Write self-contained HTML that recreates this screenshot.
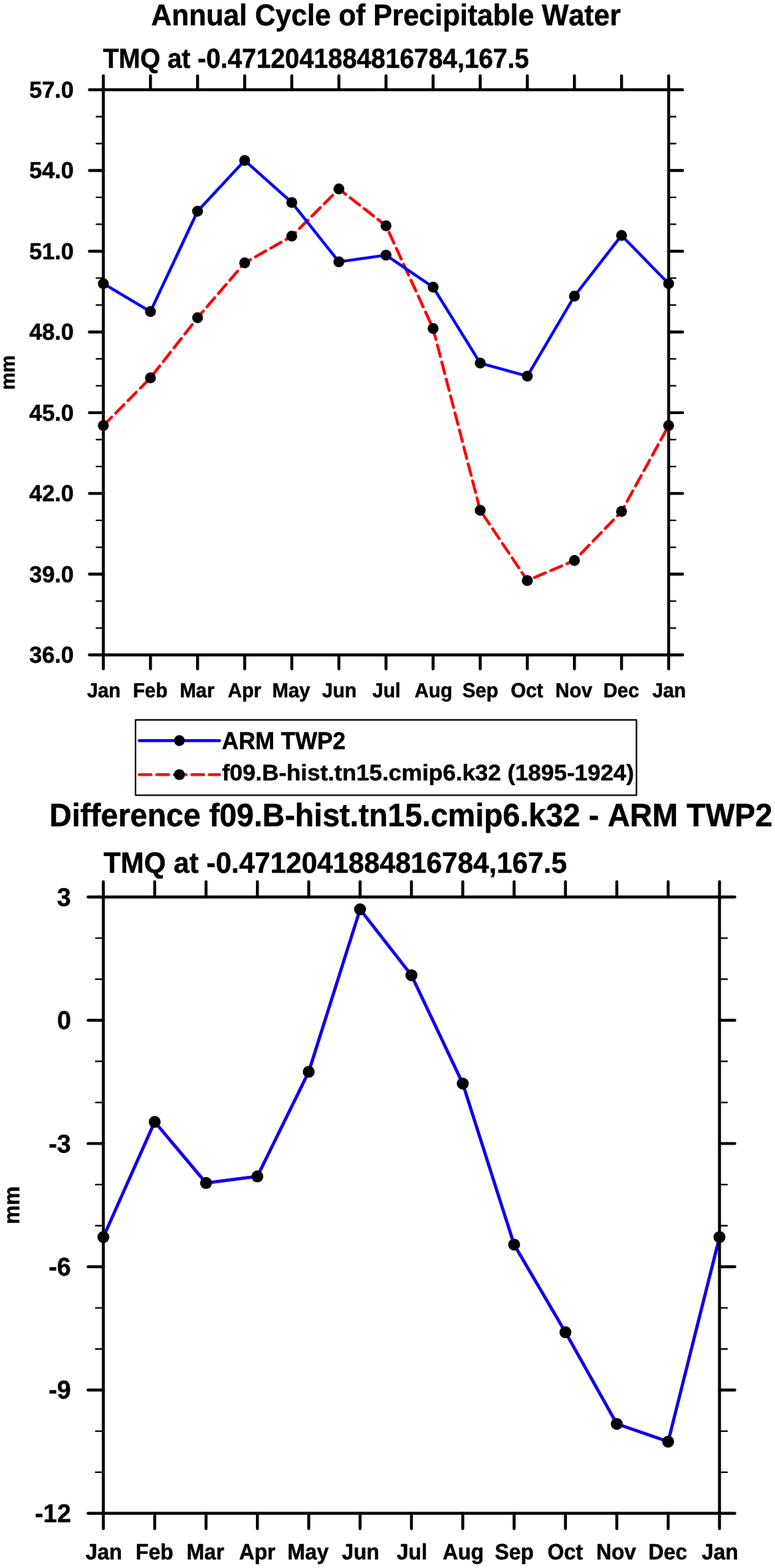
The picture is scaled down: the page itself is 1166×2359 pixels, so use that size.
<!DOCTYPE html>
<html lang="en"><head><meta charset="utf-8"><title>Annual Cycle of Precipitable Water</title>
<style>html,body{margin:0;padding:0;background:#fff}body{width:1166px;height:2359px;overflow:hidden}svg{display:block}</style></head>
<body>
<svg width="1166" height="2359" viewBox="0 0 1166 2359" font-family="'Liberation Sans', sans-serif" font-weight="bold" fill="#000" style="font-kerning:none;display:block" text-rendering="geometricPrecision">
<rect width="1166" height="2359" fill="#fff"/>
<path d="M155.50 640.30L226.38 568.50L297.25 478.00L368.12 395.50L439.00 355.30L509.88 284.30L580.75 339.60L651.62 494.30L722.50 767.80L793.38 873.40L864.25 843.20L935.12 769.50L1006.00 640.20" fill="none" stroke="#f00" stroke-width="4.4" stroke-dasharray="17.9 8.5" stroke-linecap="round" stroke-linejoin="round"/>
<path d="M155.50 426.70L226.38 468.80L297.25 317.80L368.12 241.40L439.00 304.60L509.88 393.90L580.75 383.90L651.62 432.00L722.50 546.30L793.38 565.90L864.25 445.50L935.12 354.20L1006.00 426.80" fill="none" stroke="#00f" stroke-width="4.4" stroke-linecap="round" stroke-linejoin="round"/>
<g stroke="#000" fill="none" stroke-linecap="round"><path d="M155.50 175.49h-10.50M1006.00 175.49h10.50M155.50 215.98h-10.50M1006.00 215.98h10.50M155.50 296.96h-10.50M1006.00 296.96h10.50M155.50 337.45h-10.50M1006.00 337.45h10.50M155.50 418.43h-10.50M1006.00 418.43h10.50M155.50 458.92h-10.50M1006.00 458.92h10.50M155.50 539.90h-10.50M1006.00 539.90h10.50M155.50 580.40h-10.50M1006.00 580.40h10.50M155.50 661.38h-10.50M1006.00 661.38h10.50M155.50 701.87h-10.50M1006.00 701.87h10.50M155.50 782.85h-10.50M1006.00 782.85h10.50M155.50 823.34h-10.50M1006.00 823.34h10.50M155.50 904.32h-10.50M1006.00 904.32h10.50M155.50 944.81h-10.50M1006.00 944.81h10.50" stroke-width="2.3"/><path d="M155.50 135.00h-21.00M1006.00 135.00h21.00M155.50 256.47h-21.00M1006.00 256.47h21.00M155.50 377.94h-21.00M1006.00 377.94h21.00M155.50 499.41h-21.00M1006.00 499.41h21.00M155.50 620.89h-21.00M1006.00 620.89h21.00M155.50 742.36h-21.00M1006.00 742.36h21.00M155.50 863.83h-21.00M1006.00 863.83h21.00M155.50 985.30h-21.00M1006.00 985.30h21.00M155.50 135.00v-21.00M155.50 985.30v21.00M226.38 135.00v-21.00M226.38 985.30v21.00M297.25 135.00v-21.00M297.25 985.30v21.00M368.12 135.00v-21.00M368.12 985.30v21.00M439.00 135.00v-21.00M439.00 985.30v21.00M509.88 135.00v-21.00M509.88 985.30v21.00M580.75 135.00v-21.00M580.75 985.30v21.00M651.62 135.00v-21.00M651.62 985.30v21.00M722.50 135.00v-21.00M722.50 985.30v21.00M793.38 135.00v-21.00M793.38 985.30v21.00M864.25 135.00v-21.00M864.25 985.30v21.00M935.12 135.00v-21.00M935.12 985.30v21.00M1006.00 135.00v-21.00M1006.00 985.30v21.00" stroke-width="4.45"/><rect x="155.50" y="135.00" width="850.50" height="850.30" stroke-width="4.45" stroke-linejoin="miter"/></g>
<g><circle cx="155.50" cy="640.30" r="8.2"/><circle cx="226.38" cy="568.50" r="8.2"/><circle cx="297.25" cy="478.00" r="8.2"/><circle cx="368.12" cy="395.50" r="8.2"/><circle cx="439.00" cy="355.30" r="8.2"/><circle cx="509.88" cy="284.30" r="8.2"/><circle cx="580.75" cy="339.60" r="8.2"/><circle cx="651.62" cy="494.30" r="8.2"/><circle cx="722.50" cy="767.80" r="8.2"/><circle cx="793.38" cy="873.40" r="8.2"/><circle cx="864.25" cy="843.20" r="8.2"/><circle cx="935.12" cy="769.50" r="8.2"/><circle cx="1006.00" cy="640.20" r="8.2"/><circle cx="155.50" cy="426.70" r="8.2"/><circle cx="226.38" cy="468.80" r="8.2"/><circle cx="297.25" cy="317.80" r="8.2"/><circle cx="368.12" cy="241.40" r="8.2"/><circle cx="439.00" cy="304.60" r="8.2"/><circle cx="509.88" cy="393.90" r="8.2"/><circle cx="580.75" cy="383.90" r="8.2"/><circle cx="651.62" cy="432.00" r="8.2"/><circle cx="722.50" cy="546.30" r="8.2"/><circle cx="793.38" cy="565.90" r="8.2"/><circle cx="864.25" cy="445.50" r="8.2"/><circle cx="935.12" cy="354.20" r="8.2"/><circle cx="1006.00" cy="426.80" r="8.2"/></g>
<text transform="translate(227.39 37.60) scale(1 1.0577)" font-size="42.671"  stroke="#000" stroke-width="0.5" stroke-linejoin="round">Annual Cycle of Precipitable Water</text>
<text transform="translate(154.91 102.00) scale(1 1.0688)" font-size="38.827"  stroke="#000" stroke-width="0.5" stroke-linejoin="round">TMQ at -0.4712041884816784,167.5</text>
<text transform="translate(44.04 146.90) scale(1 1.0100)" font-size="34.409"  stroke="#000" stroke-width="0.5" stroke-linejoin="round">57.0</text>
<text transform="translate(44.04 268.37) scale(1 1.0100)" font-size="34.409"  stroke="#000" stroke-width="0.5" stroke-linejoin="round">54.0</text>
<text transform="translate(44.04 389.84) scale(1 1.0100)" font-size="34.409"  stroke="#000" stroke-width="0.5" stroke-linejoin="round">51.0</text>
<text transform="translate(44.04 511.31) scale(1 1.0100)" font-size="34.409"  stroke="#000" stroke-width="0.5" stroke-linejoin="round">48.0</text>
<text transform="translate(44.04 632.78) scale(1 1.0100)" font-size="34.409"  stroke="#000" stroke-width="0.5" stroke-linejoin="round">45.0</text>
<text transform="translate(44.04 754.26) scale(1 1.0100)" font-size="34.409"  stroke="#000" stroke-width="0.5" stroke-linejoin="round">42.0</text>
<text transform="translate(44.04 875.73) scale(1 1.0100)" font-size="34.409"  stroke="#000" stroke-width="0.5" stroke-linejoin="round">39.0</text>
<text transform="translate(44.04 997.20) scale(1 1.0100)" font-size="34.409"  stroke="#000" stroke-width="0.5" stroke-linejoin="round">36.0</text>
<text transform="translate(130.91 1048.90) scale(1 1.0451)" font-size="29.344"  stroke="#000" stroke-width="0.5" stroke-linejoin="round">Jan</text>
<text transform="translate(199.91 1048.90) scale(1 1.0451)" font-size="29.344"  stroke="#000" stroke-width="0.5" stroke-linejoin="round">Feb</text>
<text transform="translate(270.40 1048.90) scale(1 1.0451)" font-size="29.344"  stroke="#000" stroke-width="0.5" stroke-linejoin="round">Mar</text>
<text transform="translate(342.71 1048.90) scale(1 1.0451)" font-size="29.344"  stroke="#000" stroke-width="0.5" stroke-linejoin="round">Apr</text>
<text transform="translate(409.56 1048.90) scale(1 1.0451)" font-size="29.344"  stroke="#000" stroke-width="0.5" stroke-linejoin="round">May</text>
<text transform="translate(484.48 1048.90) scale(1 1.0451)" font-size="29.344"  stroke="#000" stroke-width="0.5" stroke-linejoin="round">Jun</text>
<text transform="translate(560.37 1048.90) scale(1 1.0451)" font-size="29.344"  stroke="#000" stroke-width="0.5" stroke-linejoin="round">Jul</text>
<text transform="translate(623.72 1048.90) scale(1 1.0451)" font-size="29.344"  stroke="#000" stroke-width="0.5" stroke-linejoin="round">Aug</text>
<text transform="translate(695.77 1048.90) scale(1 1.0451)" font-size="29.344"  stroke="#000" stroke-width="0.5" stroke-linejoin="round">Sep</text>
<text transform="translate(768.49 1048.90) scale(1 1.0451)" font-size="29.344"  stroke="#000" stroke-width="0.5" stroke-linejoin="round">Oct</text>
<text transform="translate(835.62 1048.90) scale(1 1.0451)" font-size="29.344"  stroke="#000" stroke-width="0.5" stroke-linejoin="round">Nov</text>
<text transform="translate(907.66 1048.90) scale(1 1.0451)" font-size="29.344"  stroke="#000" stroke-width="0.5" stroke-linejoin="round">Dec</text>
<text transform="translate(981.41 1048.90) scale(1 1.0451)" font-size="29.344"  stroke="#000" stroke-width="0.5" stroke-linejoin="round">Jan</text>
<text transform="translate(21.55 560.45) rotate(-90) scale(1 1.0383) translate(-26.13 0)" font-size="29.326" stroke="#000" stroke-width="0.5" stroke-linejoin="round">mm</text>
<rect x="203.9" y="1083.2" width="753.7" height="113.1" fill="none" stroke="#000" stroke-width="2.25" stroke-linejoin="round"/>
<path d="M209.4 1114.3H330.4" stroke="#00f" stroke-width="4.4" stroke-linecap="round"/>
<path d="M209.4 1165.4H330.4" stroke="#f00" stroke-width="4.4" stroke-linecap="round" stroke-dasharray="17.9 8.5"/>
<circle cx="269.9" cy="1114.3" r="8.2"/><circle cx="269.9" cy="1165.4" r="8.2"/>
<text transform="translate(333.68 1127.00) scale(1 1.0466)" font-size="34.927"  stroke="#000" stroke-width="0.5" stroke-linejoin="round">ARM TWP2</text>
<text transform="translate(333.95 1174.20) scale(1 0.9689)" font-size="34.970"  stroke="#000" stroke-width="0.5" stroke-linejoin="round">f09.B-hist.tn15.cmip6.k32 (1895-1924)</text>
<path d="M155.50 1861.10L232.75 1687.80L310.00 1779.80L387.25 1769.80L464.50 1612.50L541.75 1368.10L619.00 1467.20L696.25 1630.20L773.50 1872.50L850.75 2004.30L928.00 2142.20L1005.25 2168.90L1082.50 1861.20" fill="none" stroke="#f00" stroke-width="4.6" stroke-linecap="round" stroke-linejoin="round"/>
<path d="M155.50 1861.10L232.75 1687.80L310.00 1779.80L387.25 1769.80L464.50 1612.50L541.75 1368.10L619.00 1467.20L696.25 1630.20L773.50 1872.50L850.75 2004.30L928.00 2142.20L1005.25 2168.90L1082.50 1861.20" fill="none" stroke="#00f" stroke-width="4.6" stroke-linecap="round" stroke-linejoin="round"/>
<g stroke="#000" fill="none" stroke-linecap="round"><path d="M155.50 1411.31h-11.40M1082.50 1411.31h11.40M155.50 1473.13h-11.40M1082.50 1473.13h11.40M155.50 1596.75h-11.40M1082.50 1596.75h11.40M155.50 1658.57h-11.40M1082.50 1658.57h11.40M155.50 1782.19h-11.40M1082.50 1782.19h11.40M155.50 1844.01h-11.40M1082.50 1844.01h11.40M155.50 1967.63h-11.40M1082.50 1967.63h11.40M155.50 2029.45h-11.40M1082.50 2029.45h11.40M155.50 2153.07h-11.40M1082.50 2153.07h11.40M155.50 2214.89h-11.40M1082.50 2214.89h11.40" stroke-width="2.35"/><path d="M155.50 1349.50h-23.00M1082.50 1349.50h23.00M155.50 1534.94h-23.00M1082.50 1534.94h23.00M155.50 1720.38h-23.00M1082.50 1720.38h23.00M155.50 1905.82h-23.00M1082.50 1905.82h23.00M155.50 2091.26h-23.00M1082.50 2091.26h23.00M155.50 2276.70h-23.00M1082.50 2276.70h23.00M155.50 1349.50v-23.00M155.50 2276.70v23.00M232.75 1349.50v-23.00M232.75 2276.70v23.00M310.00 1349.50v-23.00M310.00 2276.70v23.00M387.25 1349.50v-23.00M387.25 2276.70v23.00M464.50 1349.50v-23.00M464.50 2276.70v23.00M541.75 1349.50v-23.00M541.75 2276.70v23.00M619.00 1349.50v-23.00M619.00 2276.70v23.00M696.25 1349.50v-23.00M696.25 2276.70v23.00M773.50 1349.50v-23.00M773.50 2276.70v23.00M850.75 1349.50v-23.00M850.75 2276.70v23.00M928.00 1349.50v-23.00M928.00 2276.70v23.00M1005.25 1349.50v-23.00M1005.25 2276.70v23.00M1082.50 1349.50v-23.00M1082.50 2276.70v23.00" stroke-width="4.45"/><rect x="155.50" y="1349.50" width="927.00" height="927.20" stroke-width="4.45" stroke-linejoin="miter"/></g>
<g><circle cx="155.50" cy="1861.10" r="9.0"/><circle cx="232.75" cy="1687.80" r="9.0"/><circle cx="310.00" cy="1779.80" r="9.0"/><circle cx="387.25" cy="1769.80" r="9.0"/><circle cx="464.50" cy="1612.50" r="9.0"/><circle cx="541.75" cy="1368.10" r="9.0"/><circle cx="619.00" cy="1467.20" r="9.0"/><circle cx="696.25" cy="1630.20" r="9.0"/><circle cx="773.50" cy="1872.50" r="9.0"/><circle cx="850.75" cy="2004.30" r="9.0"/><circle cx="928.00" cy="2142.20" r="9.0"/><circle cx="1005.25" cy="2168.90" r="9.0"/><circle cx="1082.50" cy="1861.20" r="9.0"/></g>
<text transform="translate(74.34 1243.00) scale(1 1.0455)" font-size="46.501"  stroke="#000" stroke-width="0.5" stroke-linejoin="round">Difference f09.B-hist.tn15.cmip6.k32 - ARM TWP2</text>
<text transform="translate(155.78 1313.00) scale(1 1.0412)" font-size="42.226"  stroke="#000" stroke-width="0.5" stroke-linejoin="round">TMQ at -0.4712041884816784,167.5</text>
<text transform="translate(85.85 1362.71) scale(1 1.0300)" font-size="37.600"  stroke="#000" stroke-width="0.5" stroke-linejoin="round">3</text>
<text transform="translate(86.03 1548.15) scale(1 1.0300)" font-size="37.600"  stroke="#000" stroke-width="0.5" stroke-linejoin="round">0</text>
<text transform="translate(73.33 1733.59) scale(1 1.0300)" font-size="37.600"  stroke="#000" stroke-width="0.5" stroke-linejoin="round">-3</text>
<text transform="translate(73.33 1919.03) scale(1 1.0300)" font-size="37.600"  stroke="#000" stroke-width="0.5" stroke-linejoin="round">-6</text>
<text transform="translate(73.36 2104.47) scale(1 1.0300)" font-size="37.600"  stroke="#000" stroke-width="0.5" stroke-linejoin="round">-9</text>
<text transform="translate(52.56 2289.91) scale(1 1.0300)" font-size="37.600"  stroke="#000" stroke-width="0.5" stroke-linejoin="round">-12</text>
<text transform="translate(128.77 2345.80) scale(1 1.0436)" font-size="31.896"  stroke="#000" stroke-width="0.5" stroke-linejoin="round">Jan</text>
<text transform="translate(203.98 2345.80) scale(1 1.0436)" font-size="31.896"  stroke="#000" stroke-width="0.5" stroke-linejoin="round">Feb</text>
<text transform="translate(280.81 2345.80) scale(1 1.0436)" font-size="31.896"  stroke="#000" stroke-width="0.5" stroke-linejoin="round">Mar</text>
<text transform="translate(359.63 2345.80) scale(1 1.0436)" font-size="31.896"  stroke="#000" stroke-width="0.5" stroke-linejoin="round">Apr</text>
<text transform="translate(432.50 2345.80) scale(1 1.0436)" font-size="31.896"  stroke="#000" stroke-width="0.5" stroke-linejoin="round">May</text>
<text transform="translate(514.15 2345.80) scale(1 1.0436)" font-size="31.896"  stroke="#000" stroke-width="0.5" stroke-linejoin="round">Jun</text>
<text transform="translate(596.85 2345.80) scale(1 1.0436)" font-size="31.896"  stroke="#000" stroke-width="0.5" stroke-linejoin="round">Jul</text>
<text transform="translate(665.92 2345.80) scale(1 1.0436)" font-size="31.896"  stroke="#000" stroke-width="0.5" stroke-linejoin="round">Aug</text>
<text transform="translate(744.45 2345.80) scale(1 1.0436)" font-size="31.896"  stroke="#000" stroke-width="0.5" stroke-linejoin="round">Sep</text>
<text transform="translate(823.71 2345.80) scale(1 1.0436)" font-size="31.896"  stroke="#000" stroke-width="0.5" stroke-linejoin="round">Oct</text>
<text transform="translate(896.88 2345.80) scale(1 1.0436)" font-size="31.896"  stroke="#000" stroke-width="0.5" stroke-linejoin="round">Nov</text>
<text transform="translate(975.39 2345.80) scale(1 1.0436)" font-size="31.896"  stroke="#000" stroke-width="0.5" stroke-linejoin="round">Dec</text>
<text transform="translate(1055.77 2345.80) scale(1 1.0436)" font-size="31.896"  stroke="#000" stroke-width="0.5" stroke-linejoin="round">Jan</text>
<text transform="translate(28.95 1813.20) rotate(-90) scale(1 1.0524) translate(-28.45 0)" font-size="31.932" stroke="#000" stroke-width="0.5" stroke-linejoin="round">mm</text>
</svg>
</body></html>
